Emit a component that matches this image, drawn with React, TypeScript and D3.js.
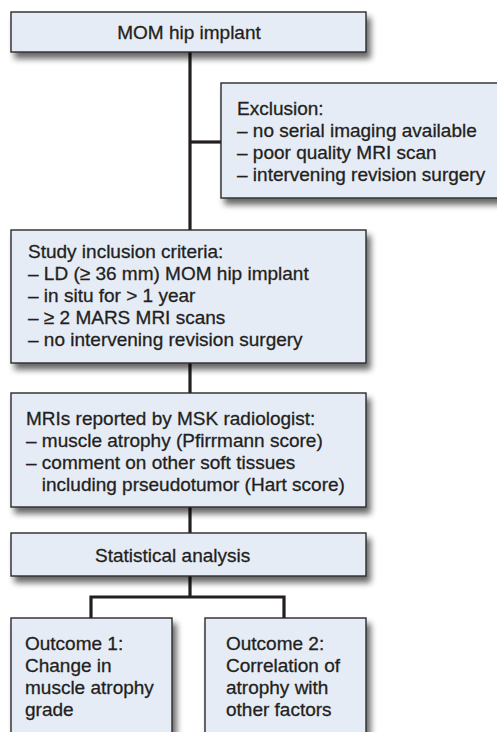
import { useEffect, useRef } from 'react';
import * as d3 from 'd3';

// box texts, top to bottom
const topLines = ['MOM hip implant'];
const exclusionLines = [
  'Exclusion:',
  '– no serial imaging available',
  '– poor quality MRI scan',
  '– intervening revision surgery',
];
const studyLines = [
  'Study inclusion criteria:',
  '– LD (≥ 36 mm) MOM hip implant',
  '– in situ for > 1 year',
  '– ≥ 2 MARS MRI scans',
  '– no intervening revision surgery',
];
const mriLines = [
  'MRIs reported by MSK radiologist:',
  '– muscle atrophy (Pfirrmann score)',
  '– comment on other soft tissues',
  '   including prseudotumor (Hart score)',
];
const statLines = ['Statistical analysis'];
const outcome1Lines = ['Outcome 1:', 'Change in', 'muscle atrophy', 'grade'];
const outcome2Lines = ['Outcome 2:', 'Correlation of', 'atrophy with', 'other factors'];

const W = 497;
const H = 732;

export default function App() {
  const svgRef = useRef<SVGSVGElement>(null);

  useEffect(() => {
    const svg = d3.select(svgRef.current);
    svg.selectAll('*').remove();

    const defs = svg.append('defs');
    const f = defs
      .append('filter')
      .attr('id', 'shadow')
      .attr('x', '-10%')
      .attr('y', '-20%')
      .attr('width', '130%')
      .attr('height', '160%');
    f.append('feGaussianBlur').attr('in', 'SourceAlpha').attr('stdDeviation', 3);
    f.append('feOffset').attr('dx', 4).attr('dy', 6).attr('result', 'off');
    f.append('feComponentTransfer')
      .append('feFuncA')
      .attr('type', 'linear')
      .attr('slope', 0.6);
    const merge = f.append('feMerge');
    merge.append('feMergeNode');
    merge.append('feMergeNode').attr('in', 'SourceGraphic');

    // layout
    const boxes = [
      { lines: topLines, x: 11, y: 12, w: 355, h: 40, tx: 189, ty: 32, anchor: 'middle' },
      { lines: exclusionLines, x: 221, y: 83, w: 300, h: 115, tx: 237, ty: 108, anchor: 'start' },
      { lines: studyLines, x: 11, y: 230, w: 355, h: 133, tx: 28, ty: 251, anchor: 'start' },
      { lines: mriLines, x: 11, y: 393, w: 355, h: 114, tx: 26, ty: 418, anchor: 'start' },
      { lines: statLines, x: 11, y: 533, w: 355, h: 43, tx: 95, ty: 555, anchor: 'start' },
      { lines: outcome1Lines, x: 11, y: 618, w: 161, h: 130, tx: 25, ty: 643, anchor: 'start' },
      { lines: outcome2Lines, x: 205, y: 618, w: 161, h: 130, tx: 226, ty: 643, anchor: 'start' },
    ];
    const lineStep = 22;

    // connectors
    const connectors: [number, number][][] = [
      [[190, 52], [190, 230]],
      [[190, 142], [221, 142]],
      [[190, 363], [190, 393]],
      [[190, 507], [190, 533]],
      [[190, 576], [190, 597]],
      [[91, 618], [91, 597], [284, 597], [284, 618]],
    ];
    const lineGen = d3.line();
    svg
      .append('g')
      .selectAll('path')
      .data(connectors)
      .join('path')
      .attr('d', (d) => lineGen(d))
      .attr('fill', 'none')
      .attr('stroke', '#231f20')
      .attr('stroke-width', 3.2)
      .attr('stroke-linejoin', 'miter');

    const g = svg
      .append('g')
      .selectAll('g')
      .data(boxes)
      .join('g');

    g.append('rect')
      .attr('x', (d) => d.x)
      .attr('y', (d) => d.y)
      .attr('width', (d) => d.w)
      .attr('height', (d) => d.h)
      .attr('fill', '#e6ecf6')
      .attr('stroke', '#2b2b2b')
      .attr('stroke-width', 1.4)
      .attr('filter', 'url(#shadow)');

    g.each(function (d) {
      const t = d3
        .select(this)
        .append('text')
        .attr('font-family', 'Liberation Sans, Arial, Helvetica, sans-serif')
        .attr('font-size', 19)
        .attr('fill', '#231f20')
        .attr('stroke', '#231f20')
        .attr('stroke-width', 0.3)
        .attr('text-anchor', d.anchor);
      t.selectAll('tspan')
        .data(d.lines)
        .join('tspan')
        .attr('x', d.tx)
        .attr('y', (_, i) => d.ty + i * lineStep)
        .attr('dy', '0.35em')
        .attr('xml:space', 'preserve')
        .style('white-space', 'pre')
        .text((s) => s);
    });
  }, []);

  return (
    <svg
      ref={svgRef}
      width={W}
      height={H}
      style={{ position: 'absolute', left: 0, top: 0, background: '#fff' }}
    />
  );
}
